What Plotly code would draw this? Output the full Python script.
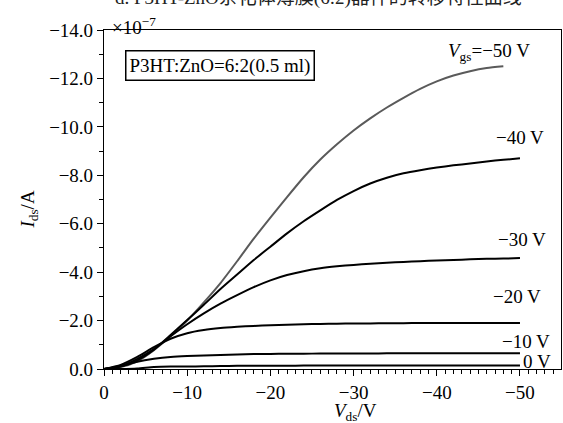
import plotly.graph_objects as go

# Drain-source voltage (V)
vds = [0, -2, -4, -6, -8, -10, -12, -14, -16, -18, -20, -22, -24, -26, -28,
       -30, -32, -34, -36, -38, -40, -42, -44, -46, -48, -50]

# Drain current in units of 1e-7 A for each gate voltage
i_gs_m50 = [0, -0.08, -0.32, -0.78, -1.35, -2.0, -2.75, -3.55, -4.45, -5.38, -6.25, -7.1, -7.92,
            -8.65, -9.28, -9.85, -10.35, -10.8, -11.2, -11.57, -11.88, -12.12, -12.3, -12.43,
            -12.5, None]
i_gs_m40 = [0, -0.1, -0.36, -0.8, -1.4, -2.02, -2.65, -3.3, -3.9, -4.5, -5.05, -5.6, -6.1,
            -6.55, -6.98, -7.35, -7.66, -7.9, -8.08, -8.21, -8.32, -8.41, -8.49, -8.57, -8.64, -8.7]
i_gs_m30 = [0, -0.12, -0.42, -0.82, -1.35, -1.85, -2.3, -2.7, -3.05, -3.38, -3.66, -3.88, -4.04,
            -4.16, -4.24, -4.3, -4.35, -4.39, -4.42, -4.45, -4.48, -4.5, -4.53, -4.55, -4.56, -4.58]
i_gs_m20 = [0, -0.17, -0.5, -0.9, -1.25, -1.48, -1.61, -1.69, -1.74, -1.78, -1.81, -1.83, -1.85,
            -1.86, -1.87, -1.88, -1.88, -1.89, -1.89, -1.9, -1.9, -1.9, -1.9, -1.9, -1.9, -1.9]
i_gs_m10 = [0, -0.12, -0.3, -0.42, -0.5, -0.54, -0.56, -0.58, -0.6, -0.62, -0.62, -0.63, -0.63,
            -0.64, -0.64, -0.64, -0.64, -0.65, -0.65, -0.65, -0.65, -0.65, -0.65, -0.65, -0.65, -0.65]
i_gs_0 = [0, 0, -0.02, -0.08, -0.1, -0.1, -0.11, -0.12, -0.13, -0.13, -0.13, -0.13, -0.14,
          -0.14, -0.14, -0.14, -0.14, -0.14, -0.14, -0.14, -0.14, -0.14, -0.14, -0.14, -0.14, -0.14]

series = [i_gs_m50, i_gs_m40, i_gs_m30, i_gs_m20, i_gs_m10, i_gs_0]
series_colors = ["#5a5a5a", "#000000", "#000000", "#000000", "#000000", "#000000"]

# Curve labels and their anchor positions (data units)
label_texts = ["<i>V</i><sub>gs</sub>=−50 V", "−40 V", "−30 V", "−20 V", "−10 V", "0 V"]
label_x = [-46.3, -50.0, -50.2, -49.7, -50.7, -52.1]
label_y = [-13.1, -9.55, -5.35, -3.0, -1.13, -0.3]

x_ticks = [0, -10, -20, -30, -40, -50]
x_ticktext = ["0", "−10", "−20", "−30", "−40", "−50"]
y_ticks = [0, -2, -4, -6, -8, -10, -12, -14]
y_ticktext = ["0.0", "−2.0", "−4.0", "−6.0", "−8.0", "−10.0", "−12.0", "−14.0"]

FONT = "Liberation Serif"
CJK_FONT = "Liberation Serif, Noto Sans CJK SC"

fig = go.Figure()
for ys, c in zip(series, series_colors):
    fig.add_trace(go.Scatter(x=vds, y=ys, mode="lines",
                             line=dict(color=c, width=2, shape="spline", smoothing=0.6),
                             showlegend=False, hoverinfo="skip"))

annotations = []
for t, ax_, ay_ in zip(label_texts, label_x, label_y):
    annotations.append(dict(x=ax_, y=ay_, xref="x", yref="y", text=t, showarrow=False,
                            font=dict(family=FONT, size=19, color="black")))

# Sample box
annotations.append(dict(x=-14.0, y=-12.55, xref="x", yref="y",
                        text="P3HT:ZnO=6:2(0.5 ml)", showarrow=False,
                        bordercolor="black", borderwidth=1.5, borderpad=3, bgcolor="white",
                        font=dict(family=FONT, size=19, color="black")))
# Multiplier
annotations.append(dict(x=-0.7, y=1.0, xref="x", yref="paper", xanchor="left", yanchor="middle",
                        yshift=4, text="×10<sup>−7</sup>", showarrow=False,
                        font=dict(family=FONT, size=19, color="black")))
# Axis titles
annotations.append(dict(x=0.55, y=-0.126, xref="paper", yref="paper", yanchor="middle",
                        text="<i>V</i><sub>ds</sub>/V", showarrow=False,
                        font=dict(family=FONT, size=19, color="black")))
annotations.append(dict(x=-0.195, y=0.47, xref="paper", yref="paper", textangle=-90,
                        text="<i>I</i><sub>ds</sub>/A", showarrow=False,
                        font=dict(family=FONT, size=19, color="black")))
# Caption cut off at the top of the picture
annotations.append(dict(x=0.02, y=1.094, xref="paper", yref="paper", xanchor="left",
                        yanchor="middle",
                        text="d. P3HT-ZnO杂化体薄膜(6:2)器件的转移特性曲线", showarrow=False,
                        font=dict(family=CJK_FONT, size=19, color="#222")))

fig.update_layout(
    width=563, height=423, autosize=False,
    margin=dict(l=104, r=2, t=30, b=54),
    paper_bgcolor="white", plot_bgcolor="white",
    font=dict(family=FONT, size=19, color="black"),
    annotations=annotations,
    showlegend=False,
)
fig.update_xaxes(range=[0, -54.93], tickvals=x_ticks, ticktext=x_ticktext,
                 showline=True, linecolor="black", linewidth=1.2, mirror=True,
                 ticks="outside", ticklen=6, tickwidth=1.2, tickcolor="black",
                 minor=dict(dtick=-5, tick0=0, ticks="outside", ticklen=4, tickwidth=1.2,
                            tickcolor="black"),
                 showgrid=False, zeroline=False,
                 tickfont=dict(family=FONT, size=19, color="black"))
fig.update_yaxes(range=[0, -14.0], tickvals=y_ticks, ticktext=y_ticktext,
                 showline=True, linecolor="black", linewidth=1.2, mirror=True,
                 ticks="outside", ticklen=6, tickwidth=1.2, tickcolor="black",
                 minor=dict(dtick=-1, tick0=0, ticks="outside", ticklen=4, tickwidth=1.2,
                            tickcolor="black"),
                 showgrid=False, zeroline=False,
                 tickfont=dict(family=FONT, size=19, color="black"))

fig.write_html("out.html")
